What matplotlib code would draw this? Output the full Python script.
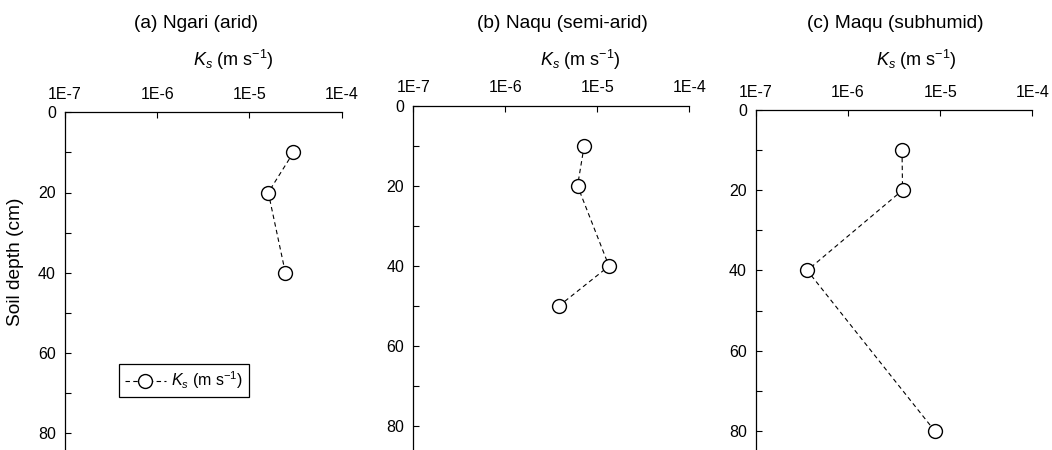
import matplotlib
matplotlib.use("Agg")
import matplotlib.pyplot as plt
from matplotlib.ticker import FixedLocator, NullLocator

plt.rcParams['font.family'] = ['Liberation Sans', 'DejaVu Sans']
plt.rcParams['mathtext.fontset'] = 'custom'
plt.rcParams['mathtext.rm'] = 'Liberation Sans'
plt.rcParams['mathtext.it'] = 'Liberation Sans:italic'
plt.rcParams['mathtext.bf'] = 'Liberation Sans:bold'

# ---- data ----
titles = ["(a) Ngari (arid)", "(b) Naqu (semi-arid)", "(c) Maqu (subhumid)"]
ngari_depth = [10, 20, 40]
ngari_ks = [3.0e-5, 1.6e-5, 2.45e-5]
naqu_depth = [10, 20, 40, 50]
naqu_ks = [7.2e-6, 6.1e-6, 1.34e-5, 3.8e-6]
maqu_depth = [10, 20, 40, 80]
maqu_ks = [3.85e-6, 3.9e-6, 3.6e-7, 8.7e-6]
x_ticks = [1e-7, 1e-6, 1e-5, 1e-4]
x_tick_labels = ["1E-7", "1E-6", "1E-5", "1E-4"]
y_major = [0, 20, 40, 60, 80]
y_minor = [10, 30, 50, 70]
xlabel = r"$K_s$ (m s$^{-1}$)"
ylabel = "Soil depth (cm)"
legend_label = r"$K_s$ (m s$^{-1}$)"

depths = [ngari_depth, naqu_depth, maqu_depth]
values = [ngari_ks, naqu_ks, maqu_ks]

W, H = 1052, 450
fig = plt.figure(figsize=(W / 100, H / 100), dpi=100)

# panel geometry in pixels: left, right, top
geom = [(65, 341.7, 112.3), (413.3, 689.3, 105.7), (756, 1032.3, 110)]
ppu = 4.01
ymax = 86
title_pos = [(196, 23), (562, 23), (895, 23)]
xlab_pos = [(233, 60), (580, 60), (916, 60)]
fs = 11.5
fs_title = 13.8
fs_xlab = 13

axes = []
for i, (l, r, t) in enumerate(geom):
    b = t + ymax * ppu
    ax = fig.add_axes([l / W, 1 - b / H, (r - l) / W, (b - t) / H])
    axes.append(ax)
    ax.plot(values[i], depths[i], linestyle=(0, (4, 3)), color='black', lw=0.8,
            marker='o', markersize=10, markerfacecolor='white',
            markeredgecolor='black', markeredgewidth=1.0, label=legend_label)
    ax.set_xscale('log')
    ax.set_xlim(1e-7, 1e-4)
    ax.set_ylim(ymax, 0)
    ax.xaxis.set_major_locator(FixedLocator(x_ticks))
    ax.set_xticklabels(x_tick_labels)
    ax.xaxis.set_minor_locator(NullLocator())
    ax.xaxis.tick_top()
    ax.yaxis.set_major_locator(FixedLocator(y_major))
    ax.yaxis.set_minor_locator(FixedLocator(y_minor))
    ax.tick_params(axis='both', which='both', direction='in', length=4,
                   width=0.8, labelsize=fs, colors='black')
    ax.tick_params(axis='x', pad=7.5)
    ax.tick_params(axis='y', pad=6.5)
    ax.spines['right'].set_visible(False)
    ax.spines['bottom'].set_visible(False)
    for s in ('left', 'top'):
        ax.spines[s].set_linewidth(0.9)
    fig.text(title_pos[i][0] / W, 1 - title_pos[i][1] / H, titles[i],
             ha='center', va='center', fontsize=fs_title)
    fig.text(xlab_pos[i][0] / W, 1 - xlab_pos[i][1] / H, xlabel,
             ha='center', va='center', fontsize=fs_xlab)

fig.text(16 / W, 1 - 262 / H, ylabel, rotation=90, ha='center', va='center',
         fontsize=fs_title)

# legend in panel a
l, r, t = geom[0]
b = t + ymax * ppu
lx = (119 - l) / (r - l)
ly = 1 - (364 - t) / (b - t)
leg = axes[0].legend(loc='upper left', bbox_to_anchor=(lx, ly), borderaxespad=0,
                     fancybox=False, framealpha=1, edgecolor='black',
                     fontsize=fs, handlelength=2.6, handletextpad=0.3,
                     borderpad=0.35)
leg.get_frame().set_linewidth(0.9)

fig.savefig("out.png", dpi=100)
